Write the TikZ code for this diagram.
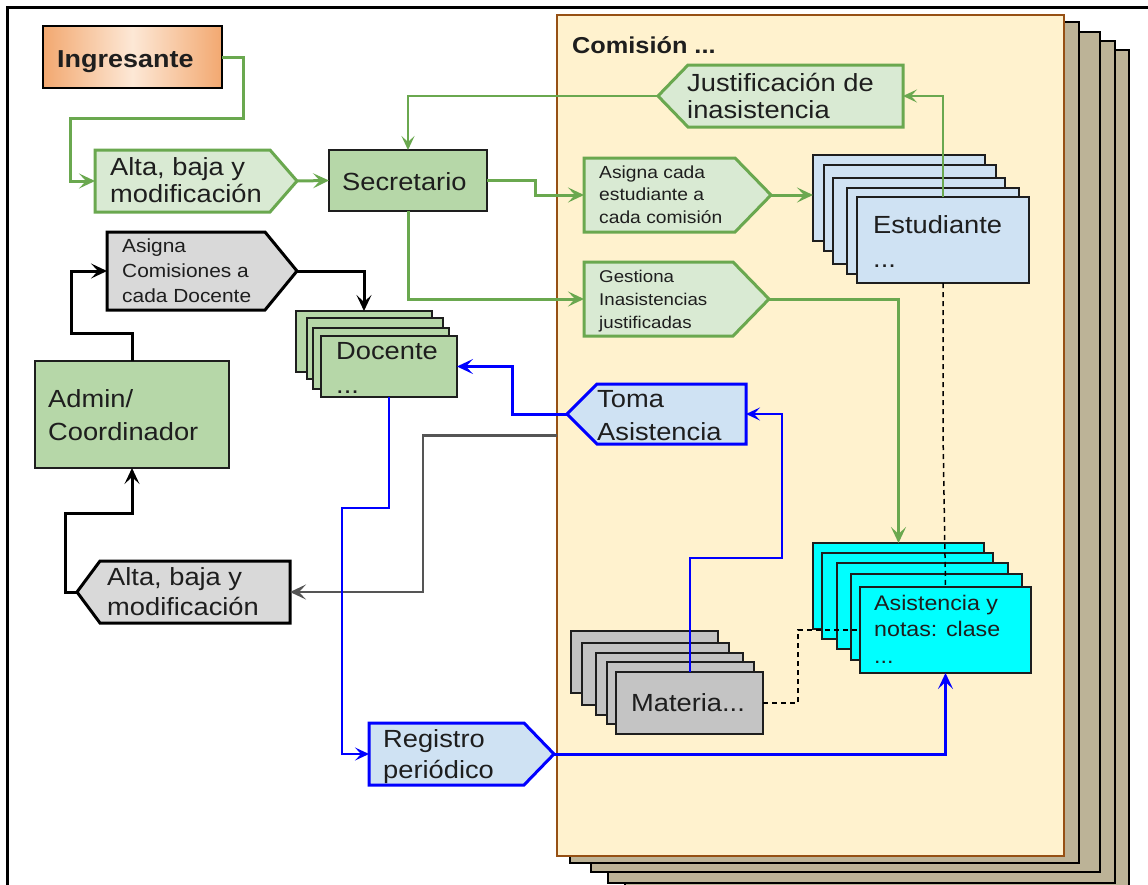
\documentclass[tikz,border=0pt]{standalone}
\usepackage{fontspec}
\setmainfont[FakeStretch=1.1]{Liberation Sans}
\usetikzlibrary{arrows.meta}

\definecolor{grline}{RGB}{106,168,79}
\definecolor{grlight}{RGB}{217,234,211}
\definecolor{grmid}{RGB}{182,215,168}
\definecolor{orangeedge}{RGB}{242,168,112}
\definecolor{orangemid}{RGB}{253,232,214}
\definecolor{bluelight}{RGB}{207,226,243}
\definecolor{blueline}{RGB}{0,0,255}
\definecolor{cyanfill}{RGB}{0,255,255}
\definecolor{grayfill}{RGB}{217,217,217}
\definecolor{matfill}{RGB}{196,196,196}
\definecolor{panelfill}{RGB}{255,242,206}
\definecolor{panelline}{RGB}{150,80,20}
\definecolor{stackfill}{RGB}{188,179,151}
\definecolor{darkgrayline}{RGB}{85,85,85}
\definecolor{ink}{RGB}{30,30,30}

% pentagon outlines drawn around an empty node: pointer to the right / left
\newcommand\sigright[3]{\draw[#1] (#2.north west) -- ([xshift=-#3]#2.north east) -- (#2.east) -- ([xshift=-#3]#2.south east) -- (#2.south west) -- cycle;}
\newcommand\sigleft[3]{\draw[#1] (#2.north east) -- ([xshift=#3]#2.north west) -- (#2.west) -- ([xshift=#3]#2.south west) -- (#2.south east) -- cycle;}

\begin{document}
\begin{tikzpicture}[x=1pt,y=-1pt,
  frame/.style={inner sep=0pt, outer sep=0pt, anchor=north west},
  box/.style={frame, draw=ink, line width=2pt},
  shp/.style={frame},
  % multi-line labels are placed by the baseline of their last line
  lbl/.style={inner sep=0pt, anchor=base west, align=left, text=ink, font=\fontsize{24.8}{27}\selectfont},
  lblsmall/.style={lbl, font=\fontsize{17.5}{22.5}\selectfont},
  tip/.style={-{Stealth[length=16pt,width=15pt,inset=7pt]}},
  tipsmall/.style={-{Stealth[length=14pt,width=13pt,inset=6pt]}},
  gconn/.style={tip, draw=grline, line width=3pt},
  gthin/.style={tipsmall, draw=grline, line width=2pt},
  kconn/.style={tip, draw=black, line width=3pt},
  bconn/.style={tip, draw=blueline, line width=3pt},
  bthin/.style={tipsmall, draw=blueline, line width=2pt},
  grconn/.style={tip, draw=darkgrayline, line width=2.5pt},
  dconn/.style={draw=black, line width=1.5pt, dash pattern=on 5pt off 4pt},
  greenshape/.style={fill=grlight, draw=grline, line width=3pt, line join=miter},
  grayshape/.style={fill=grayfill, draw=black, line width=3pt, line join=miter},
  blueshape/.style={fill=bluelight, draw=blueline, line width=3pt, line join=miter},
  card/.style={box, line width=1.8pt},
]
\path[use as bounding box, clip] (0,0) rectangle (1148,884);
\fill[white] (0,0) rectangle (1148,884);

% outer frame
\draw[line width=3pt] (7.5,900) -- (7.5,7.5) -- (1160,7.5);

% Comision panel with the stacked copies behind it
\node[frame, fill=stackfill, draw=black, line width=1.5pt, minimum width=504pt, minimum height=850pt] (cp4) at (625,50) {};
\node[frame, fill=stackfill, draw=black, line width=1.5pt, minimum width=507pt, minimum height=842pt] (cp3) at (608,41) {};
\node[frame, fill=stackfill, draw=black, line width=1.5pt, minimum width=509pt, minimum height=840pt] (cp2) at (591,32) {};
\node[frame, fill=stackfill, draw=black, line width=1.5pt, minimum width=509pt, minimum height=841pt] (cp1) at (570,22) {};
\node[frame, fill=panelfill, draw=panelline, line width=2pt, minimum width=507pt, minimum height=841pt] (com) at (557,15) {};
\node[lbl, font=\bfseries\fontsize{23}{27}\selectfont] (com-t) at (572,53) {Comisión ...};

% Ingresante
\node[box, line width=2.5pt, draw=black, left color=orangeedge, right color=orangeedge, middle color=orangemid, minimum width=179pt, minimum height=62pt] (ingr) at (43,26) {};
\node[lbl, font=\bfseries\fontsize{24.5}{27}\selectfont] (ingr-t) at (57,67) {Ingresante};

% Alta, baja y modificacion (green)
\node[shp, minimum width=202pt, minimum height=62pt] (alta) at (95,150) {};
\sigright{greenshape}{alta}{27pt}
\node[lbl] (alta-t) at (110,202) {Alta, baja y\\modificación};

% Secretario
\node[box, fill=grmid, minimum width=158pt, minimum height=61pt] (secr) at (329,150) {};
\node[lbl] (secr-t) at (342,190) {Secretario};

% Justificacion de inasistencia
\node[shp, minimum width=245pt, minimum height=62pt] (just) at (658,65) {};
\sigleft{greenshape}{just}{30pt}
\node[lbl] (just-t) at (687,118) {Justificación de\\inasistencia};

% Asigna cada estudiante
\node[shp, minimum width=187pt, minimum height=74pt] (asig) at (584,158) {};
\sigright{greenshape}{asig}{36pt}
\node[lblsmall] (asig-t) at (599,223) {Asigna cada\\estudiante a\\cada comisión};

% Gestiona inasistencias
\node[shp, minimum width=185pt, minimum height=74pt] (gest) at (584,262) {};
\sigright{greenshape}{gest}{36pt}
\node[lblsmall, font=\fontsize{17}{23}\selectfont] (gest-t) at (599,328) {Gestiona\\Inasistencias\\justificadas};

% Estudiante stack
\foreach \i/\x/\y in {1/813/155, 2/824/165, 3/833/178, 4/847/188, 5/857/197}
  \node[card, fill=bluelight, minimum width=172pt, minimum height=86pt] (est\i) at (\x,\y) {};
\node[lbl] (est-t) at (873,267) {Estudiante\\[7pt]...};

% Asigna comisiones a cada docente
\node[shp, minimum width=190pt, minimum height=78pt] (asigc) at (107,232) {};
\sigright{grayshape}{asigc}{32pt}
\node[lbl, font=\fontsize{19}{25}\selectfont] (asigc-t) at (122,302) {Asigna\\Comisiones a\\cada Docente};

% Docente stack
\foreach \i/\x/\y in {1/296/311, 2/307/318, 3/313/328, 4/321/336}
  \node[card, fill=grmid, minimum width=136pt, minimum height=61pt] (doc\i) at (\x,\y) {};
\node[lbl] (doc-t) at (336,393) {Docente\\[7pt]...};

% Admin / Coordinador
\node[box, fill=grmid, minimum width=194pt, minimum height=107pt] (admin) at (35,361) {};
\node[lbl] (admin-t) at (48,440) {Admin/\\[6pt]Coordinador};

% Alta, baja y modificacion (gray)
\node[shp, minimum width=213pt, minimum height=62pt] (galta) at (77,561) {};
\sigleft{grayshape}{galta}{23pt}
\node[lbl] (galta-t) at (107,615) {Alta, baja y\\[3pt]modificación};

% Toma asistencia
\node[shp, minimum width=179pt, minimum height=60pt] (toma) at (567,384) {};
\sigleft{blueshape}{toma}{30pt}
\node[lbl] (toma-t) at (597,440) {Toma\\[6pt]Asistencia};

% Materia stack
\foreach \i/\x/\y in {1/571/631, 2/582/643, 3/596/653, 4/607/662, 5/616/672}
  \node[card, fill=matfill, minimum width=147pt, minimum height=62pt] (mat\i) at (\x,\y) {};
\node[lbl] (mat-t) at (631,711) {Materia...};

% Asistencia y notas stack
\foreach \i/\x/\y in {1/813/543, 2/822/553, 3/837/563, 4/851/574, 5/860/587}
  \node[card, fill=cyanfill, minimum width=171pt, minimum height=86pt] (asis\i) at (\x,\y) {};
\node[lbl, font=\fontsize{21.1}{26.5}\selectfont] (asis-t) at (874,663) {Asistencia y\\notas: clase\\...};

% Registro periodico
\node[shp, minimum width=185pt, minimum height=62pt] (reg) at (369,723) {};
\sigright{blueshape}{reg}{30pt}
\node[lbl] (reg-t) at (383,778) {Registro\\[4pt]periódico};

% ---- connectors ----
\draw[gconn] (ingr.east) -- ++(21,0) |- (70,118) |- (alta.west);
\draw[gconn] (alta.east) -- (secr.west);
\draw[gthin] (just.west) -| (secr.north);
\draw[gthin] (est5.north) |- (just.east);
\draw[gconn] (secr.east) -- ++(48,0) |- (asig.west);
\draw[gconn] (asig.east) -- (asig.east -| est1.west);
\draw[gconn] (secr.south) |- (gest.west);
\draw[gconn] (gest.east) -| (asis1.north);

\draw[kconn] (asigc.east) -| (doc1.north);
\draw[kconn] (admin.north) |- (71,333) |- (asigc.west);
\draw[kconn] (galta.west) -- ++(-12,0) |- ([yshift=-45pt]admin.south) -- (admin.south);
\draw[grconn] (com.west) -- ++(-134,0) |- (galta.east);

\draw[bconn] (toma.west) -- ++(-55,0) |- (doc4.east);
\draw[bthin] (doc4.south) -- (389,508) -- (342,508) |- (reg.west);
\draw[bthin] (mat5.north) |- (782,558) |- (toma.east);
\draw[bconn] (reg.east) -| (asis5.south);

\draw[dconn] (est5.south) -- ++(0,150) -- (asis5.north);
\draw[dconn] (mat5.east) -- ++(35,0) |- (asis5.west);
\end{tikzpicture}
\end{document}
